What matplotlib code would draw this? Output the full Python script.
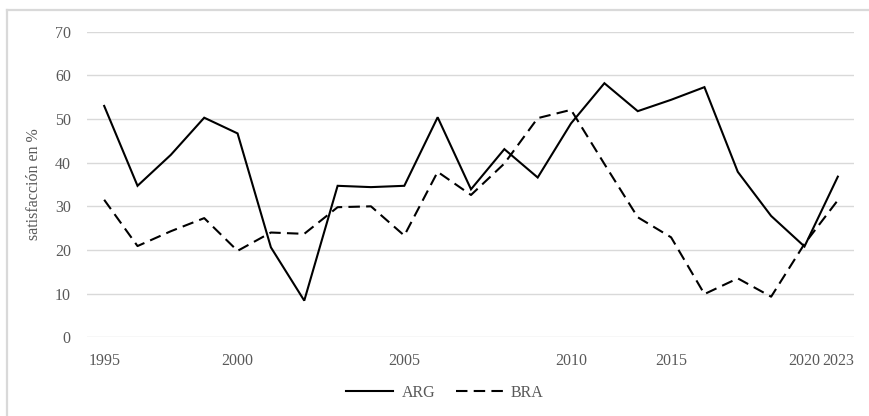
import matplotlib
matplotlib.use("Agg")
import matplotlib.pyplot as plt
from matplotlib.lines import Line2D

years = ["1995", "1996", "1997", "1998", "2000", "2001", "2002", "2003", "2004",
         "2005", "2006", "2007", "2008", "2009", "2010", "2011", "2013", "2015",
         "2016", "2017", "2018", "2020", "2023"]
arg = [53.0, 34.7, 41.8, 50.3, 46.7, 20.6, 8.4, 34.7, 34.4, 34.7, 50.4, 33.9,
       43.1, 36.6, 49.0, 58.2, 51.8, 54.4, 57.3, 37.9, 27.8, 20.8, 36.8]
bra = [31.5, 20.9, 24.3, 27.3, 19.8, 24.0, 23.7, 29.8, 30.0, 23.3, 37.9, 32.6,
       39.8, 50.2, 52.1, 39.7, 27.5, 22.9, 9.9, 13.5, 9.3, 21.4, 31.4]
shown_labels = ["1995", "2000", "2005", "2010", "2015", "2020", "2023"]
yticks = [0, 10, 20, 30, 40, 50, 60, 70]

W, H = 870, 416
fig = plt.figure(figsize=(W / 100, H / 100), dpi=100)
font = "Liberation Serif"
grey = "#595959"

ax = fig.add_axes([87.5 / W, 1 - 337.3 / H, (854.5 - 87.5) / W, (337.3 - 31.7) / H])
x = list(range(len(years)))
ax.plot(x, arg, color="black", lw=1.5, solid_joinstyle="miter", label="ARG")
ax.plot(x, bra, color="black", lw=1.5, linestyle=(0, (5.5, 3)), label="BRA")

ax.set_xlim(-0.5, len(years) - 0.5)
ax.set_ylim(0, 70)
ax.set_yticks(yticks)
ax.set_yticklabels([str(v) for v in yticks], family=font, fontsize=11.5, color=grey)
ax.set_xticks(x)
ax.set_xticklabels([y if y in shown_labels else "" for y in years],
                   family=font, fontsize=11.5, color=grey)
ax.tick_params(axis="both", length=0)
ax.tick_params(axis="x", pad=11)
ax.tick_params(axis="y", pad=12)
ax.grid(axis="y", color="#d9d9d9", lw=1.0)
ax.set_axisbelow(True)
for s in ax.spines.values():
    s.set_visible(False)

ax.set_ylabel("satisfacción en %", family=font, fontsize=11.5, color=grey, labelpad=9)

handles = [Line2D([], [], color="black", lw=1.5),
           Line2D([], [], color="black", lw=1.5, linestyle=(0, (5.5, 3)))]
fig.legend(handles, ["ARG", "BRA"], loc="center", bbox_to_anchor=(445 / W, 1 - 393 / H),
           ncol=2, frameon=False, prop={"family": font, "size": 11.5},
           labelcolor=grey, handlelength=2.95, handletextpad=0.5, columnspacing=1.3)

# chart-area border (left and top visible)
fig.add_artist(Line2D([7.5 / W, 7.5 / W], [0, 1 - 10 / H], transform=fig.transFigure,
                      color="#d9d9d9", lw=1.6))
fig.add_artist(Line2D([7.5 / W, 1], [1 - 10 / H, 1 - 10 / H], transform=fig.transFigure,
                      color="#d9d9d9", lw=1.6))

fig.savefig("out.png", dpi=100)
